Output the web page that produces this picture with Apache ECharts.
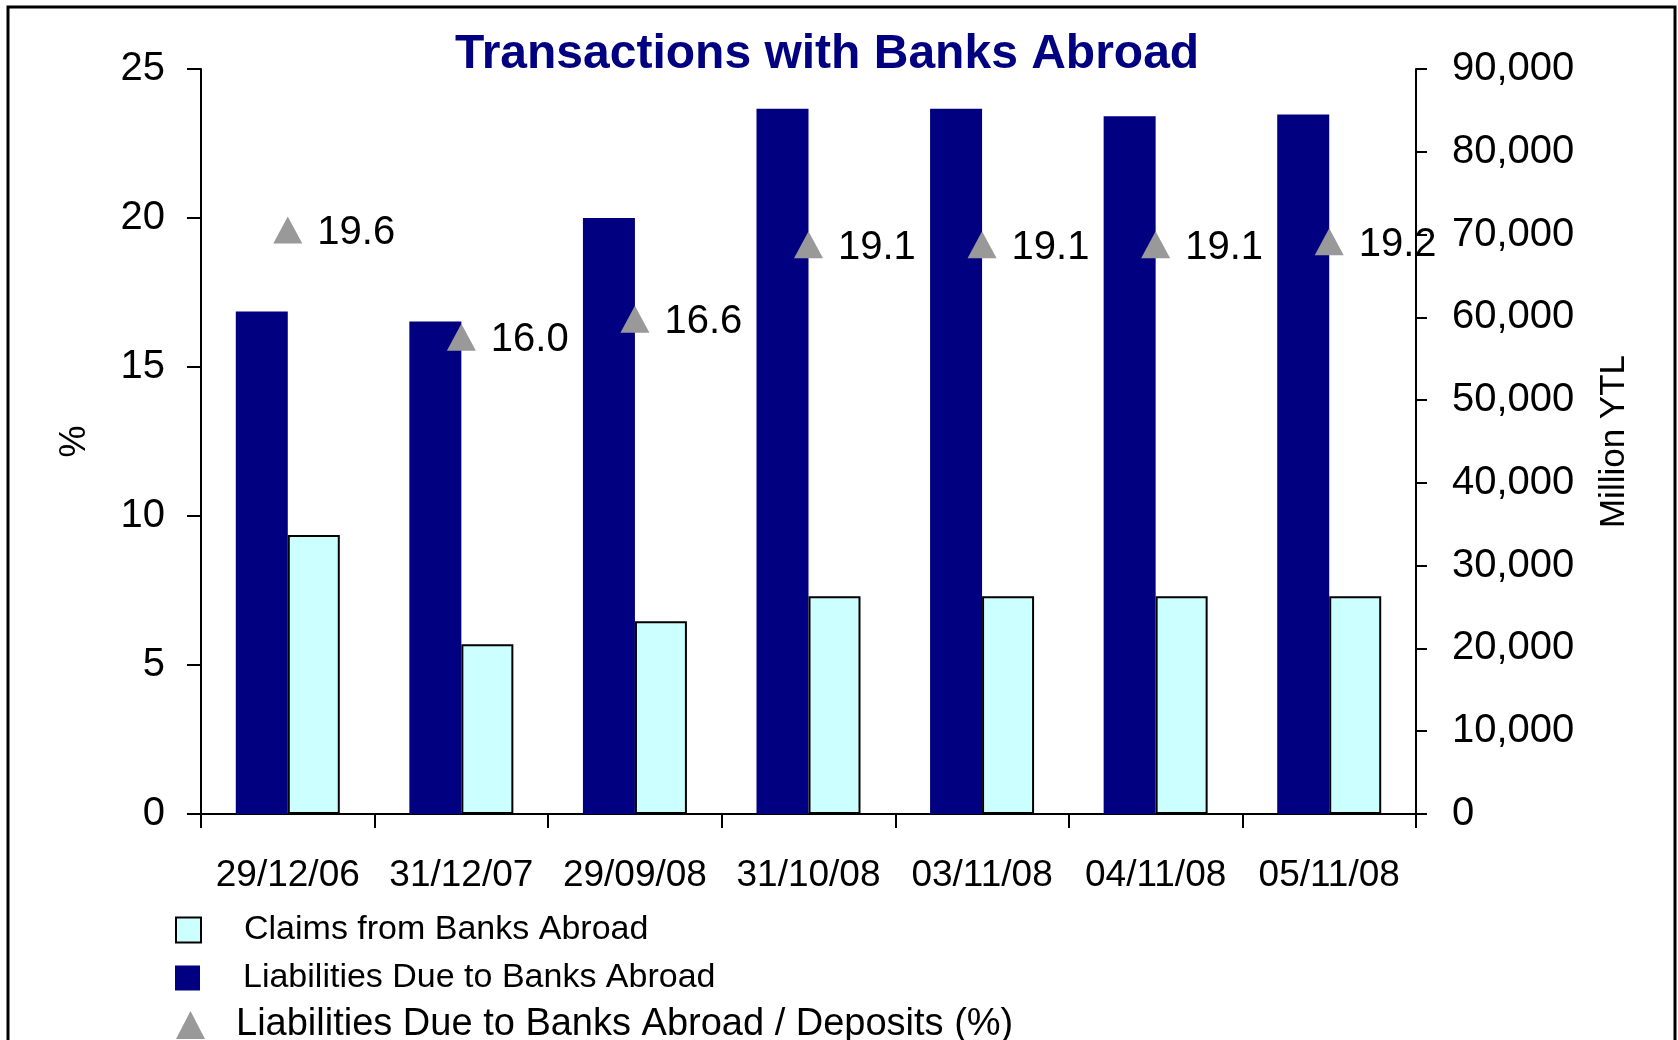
<!DOCTYPE html>
<html>
<head>
<meta charset="utf-8">
<script src="https://cdn.jsdelivr.net/npm/echarts@6/dist/echarts.min.js"></script>
<style>
  html, body { margin: 0; padding: 0; background: #ffffff; }
  #chart { width: 1678px; height: 1040px; }
</style>
</head>
<body>
<div id="chart"></div>
<script>
const categories = ['29/12/06', '31/12/07', '29/09/08', '31/10/08', '03/11/08', '04/11/08', '05/11/08'];
const liabilities = [60700, 59500, 72000, 85200, 85200, 84300, 84500];
const claims = [33700, 20500, 23300, 26300, 26300, 26300, 26300];
const ratioPct = [19.6, 16.0, 16.6, 19.1, 19.1, 19.1, 19.2];
const leftTicks = { min: 0, max: 25, interval: 5 };
const rightTicks = { min: 0, max: 90000, interval: 10000 };

const NAME_CLAIMS = 'Claims from Banks Abroad';
const NAME_LIAB = 'Liabilities Due to Banks Abroad';
const NAME_RATIO = 'Liabilities Due to Banks Abroad / Deposits (%)';

const FONT = '"Liberation Sans", Arial, "DejaVu Sans", sans-serif';
const chart = echarts.init(document.getElementById('chart'), null, { renderer: 'canvas' });

const axisLineStyle = { color: '#000', width: 2 };

chart.setOption({
  animation: false,
  backgroundColor: '#ffffff',
  textStyle: { fontFamily: FONT },
  title: {
    text: 'Transactions with Banks Abroad',
    left: 455,
    top: 31,
    padding: 0,
    textStyle: { fontFamily: FONT, fontSize: 48, fontWeight: 'bold', color: '#000080' }
  },
  graphic: [{
    type: 'rect',
    z: -10,
    shape: { x: 8, y: 7, width: 1667, height: 1100 },
    style: { fill: 'none', stroke: '#000', lineWidth: 3 }
  }],
  grid: { left: 201, right: 262, top: 69, bottom: 226, containLabel: false },
  legend: [
    {
      left: 175, top: 913, padding: 0, orient: 'vertical',
      itemWidth: 25, itemHeight: 25,
      formatter: '{t|{name}}',
      textStyle: { rich: { t: { fontFamily: FONT, fontSize: 34, color: '#000', padding: [0, 0, 0, 38] } } },
      data: [{ name: NAME_CLAIMS, icon: 'rect', itemStyle: { color: '#CCFFFF', borderColor: '#000', borderWidth: 2, opacity: 1 } }]
    },
    {
      left: 175, top: 961, padding: 0, orient: 'vertical',
      itemWidth: 25, itemHeight: 25,
      formatter: '{t|{name}}',
      textStyle: { rich: { t: { fontFamily: FONT, fontSize: 34, color: '#000', padding: [0, 0, 0, 38] } } },
      data: [{ name: NAME_LIAB, icon: 'rect', itemStyle: { color: '#000080', borderWidth: 0, opacity: 1 } }]
    },
    {
      left: 176, top: 1006, padding: 0, orient: 'vertical',
      itemWidth: 29, itemHeight: 28,
      formatter: '{t|{name}}',
      textStyle: { rich: { t: { fontFamily: FONT, fontSize: 38, color: '#000', padding: [0, 0, 0, 26] } } },
      data: [{ name: NAME_RATIO, icon: 'triangle', itemStyle: { color: '#999999', opacity: 1 } }]
    }
  ],
  xAxis: {
    type: 'category',
    data: categories,
    boundaryGap: true,
    axisLine: { show: true, lineStyle: axisLineStyle },
    axisTick: { show: true, length: 14, alignWithLabel: false, lineStyle: axisLineStyle },
    axisLabel: { fontFamily: FONT, fontSize: 37, color: '#000', margin: 43, interval: 0 },
    splitLine: { show: false }
  },
  yAxis: [
    {
      type: 'value',
      position: 'left',
      min: leftTicks.min, max: leftTicks.max, interval: leftTicks.interval,
      name: '%',
      nameLocation: 'middle',
      nameRotate: 90,
      nameGap: 108,
      nameTextStyle: { fontFamily: FONT, fontSize: 36, color: '#000' },
      axisLine: { show: true, lineStyle: axisLineStyle },
      axisTick: { show: true, length: 14, lineStyle: axisLineStyle },
      axisLabel: { fontFamily: FONT, fontSize: 40, color: '#000', margin: 36 },
      splitLine: { show: false }
    },
    {
      type: 'value',
      position: 'right',
      min: rightTicks.min, max: rightTicks.max, interval: rightTicks.interval,
      name: 'Million YTL',
      nameLocation: 'middle',
      nameRotate: 90,
      nameGap: 181,
      nameTextStyle: { fontFamily: FONT, fontSize: 35, color: '#000' },
      axisLine: { show: true, lineStyle: axisLineStyle },
      axisTick: { show: true, length: 11, lineStyle: axisLineStyle },
      axisLabel: {
        fontFamily: FONT, fontSize: 40, color: '#000', margin: 36,
        formatter: v => v.toLocaleString('en-US')
      },
      splitLine: { show: false }
    }
  ],
  series: [
    {
      name: NAME_LIAB,
      type: 'bar',
      yAxisIndex: 1,
      data: liabilities,
      barWidth: 52,
      barGap: '0%',
      itemStyle: { color: '#000080' }
    },
    {
      name: NAME_CLAIMS,
      type: 'bar',
      yAxisIndex: 1,
      data: claims,
      barWidth: 52,
      barGap: '0%',
      itemStyle: { color: '#CCFFFF', borderColor: '#000', borderWidth: 2 }
    },
    {
      name: NAME_RATIO,
      type: 'scatter',
      yAxisIndex: 0,
      data: ratioPct,
      symbol: 'triangle',
      symbolSize: [29, 27],
      itemStyle: { color: '#999999', opacity: 1 },
      z: 5,
      label: {
        show: true,
        position: 'right',
        distance: 15,
        offset: [0, 3],
        fontFamily: FONT,
        fontSize: 40,
        color: '#000000',
        opacity: 1,
        textBorderWidth: 0
      },
      labelLayout: null
    }
  ]
});
// Fix label formatting to one decimal
chart.setOption({
  series: [{}, {}, { label: { formatter: p => p.value.toFixed(1) } }]
});
</script>
</body>
</html>
